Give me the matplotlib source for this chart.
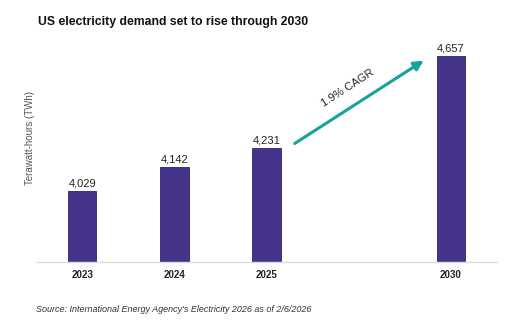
import matplotlib.pyplot as plt

plt.rcParams['font.family'] = ['Liberation Sans', 'DejaVu Sans']

years = ['2023', '2024', '2025', '2030']
positions = [0, 1, 2, 4]
demand = [4029, 4142, 4231, 4657]
value_labels = ['4,029', '4,142', '4,231', '4,657']

fig = plt.figure(figsize=(5.12, 3.23), dpi=100)
ax = fig.add_axes([36 / 512, 61 / 323, 461 / 512, 212 / 323])

ax.bar(positions, demand, width=0.31, color='#46348a', edgecolor='#2e1f78', linewidth=0.6, zorder=2)
for x, v, lab in zip(positions, demand, value_labels):
    ax.text(x, v + 12, lab, ha='center', va='bottom', fontsize=8, color='#222222')

ax.set_xlim(-0.5, 4.5)
ax.set_ylim(3700, 4686)
ax.set_xticks(positions)
ax.set_xticklabels(years, fontsize=7, fontweight='bold', color='#222222')
ax.tick_params(axis='x', length=0, pad=6)
ax.set_yticks([])
for s in ['top', 'right', 'left']:
    ax.spines[s].set_visible(False)
ax.spines['bottom'].set_color('#dddddd')
ax.spines['bottom'].set_linewidth(1)

ax.set_ylabel('Terawatt-hours (TWh)', fontsize=7, color='#555555')
ax.yaxis.set_label_coords(-0.003, 0.585)

# CAGR arrow
ax.annotate('', xy=(3.73, 4644), xytext=(2.28, 4244),
            arrowprops=dict(arrowstyle='-|>', color='#16a2a0', lw=2.2, mutation_scale=14))
ax.text(2.88, 4510, '1.9% CAGR', rotation=33, ha='center', va='center',
        fontsize=8, color='#222222', rotation_mode='anchor')

fig.text(38 / 512, 1 - 22 / 323, 'US electricity demand set to rise through 2030',
         fontsize=8.8, fontweight='bold', va='center', color='#111111')
fig.text(36 / 512, 1 - 309 / 323, "Source: International Energy Agency's Electricity 2026 as of 2/6/2026",
         fontsize=6.5, style='italic', va='center', color='#333333')

fig.savefig('out.png', dpi=100)
